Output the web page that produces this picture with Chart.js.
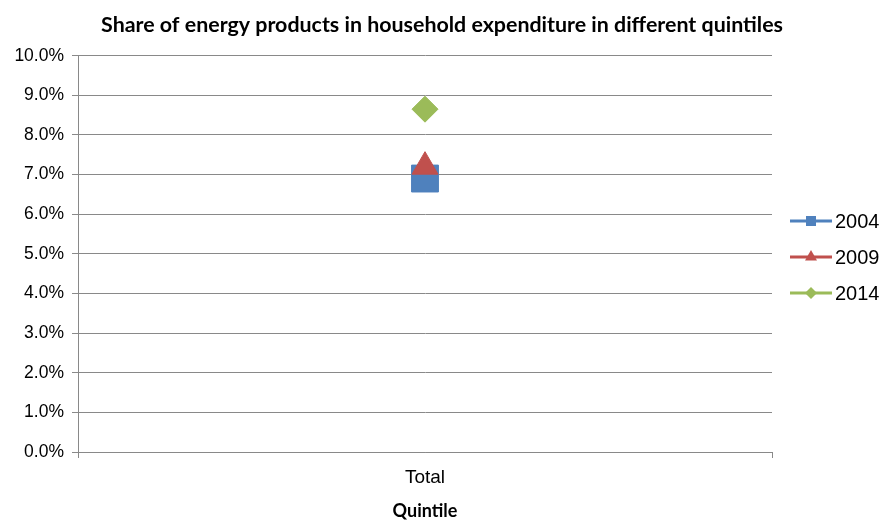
<!DOCTYPE html>
<html>
<head>
<meta charset="utf-8">
<script src="https://cdn.jsdelivr.net/npm/chart.js@4.4.0/dist/chart.umd.min.js"></script>
<style>
  html, body { margin: 0; padding: 0; background: #fff; }
  #wrap { width: 884px; height: 521px; }
</style>
</head>
<body>
<div id="wrap"><canvas id="chart" width="884" height="521"></canvas></div>
<script>
// categories and series (values in %)
const categories = ["Total"];
const seriesNames = ["2004", "2009", "2014"];
const share2004 = [6.9];
const share2009 = [7.2];
const share2014 = [8.65];

const blue = "#4F81BD";
const red = "#C0504D";
const green = "#9BBB59";
const gridGray = "#898989";

// legend drawn as line + marker, like the spreadsheet one
const lineLegend = {
    id: "lineLegend",
    afterDraw(chart) {
        const ctx = chart.ctx;
        const top = 221;
        chart.data.datasets.forEach(function (ds, i) {
            const y = top + i * 36;
            const cx = 811;
            ctx.save();
            ctx.strokeStyle = ds.borderColor;
            ctx.lineWidth = 3;
            ctx.beginPath();
            ctx.moveTo(790, y);
            ctx.lineTo(832, y);
            ctx.stroke();
            ctx.fillStyle = ds.backgroundColor;
            ctx.beginPath();
            if (ds.pointStyle === "rect") {
                ctx.rect(cx - 5, y - 5, 10, 10);
            } else if (ds.pointStyle === "triangle") {
                ctx.moveTo(cx, y - 7);
                ctx.lineTo(cx + 6, y + 3.5);
                ctx.lineTo(cx - 6, y + 3.5);
                ctx.closePath();
            } else {
                ctx.moveTo(cx, y - 6);
                ctx.lineTo(cx + 6, y);
                ctx.lineTo(cx, y + 6);
                ctx.lineTo(cx - 6, y);
                ctx.closePath();
            }
            ctx.fill();
            ctx.fillStyle = "#000";
            ctx.font = "20px 'Liberation Sans', Arial, sans-serif";
            ctx.textBaseline = "middle";
            ctx.textAlign = "left";
            ctx.fillText(seriesNames[i], 835, y + 1);
            ctx.restore();
        });
    }
};

const ctx = document.getElementById("chart");

new Chart(ctx, {
    type: "line",
    data: {
        labels: categories,
        datasets: [
            {
                label: seriesNames[0],
                data: share2004,
                borderColor: blue,
                backgroundColor: blue,
                pointStyle: "rect",
                pointRadius: 19,
                showLine: false,
                order: 3,
            },
            {
                label: seriesNames[1],
                data: share2009,
                borderColor: red,
                backgroundColor: red,
                pointStyle: "triangle",
                pointRadius: 15,
                showLine: false,
                order: 2,
            },
            {
                label: seriesNames[2],
                data: share2014,
                borderColor: green,
                backgroundColor: green,
                pointStyle: "rectRot",
                pointRadius: 13,
                showLine: false,
                order: 1,
            },
        ],
    },
    options: {
        responsive: false,
        animation: false,
        events: [],
        plugins: {
            legend: { display: false },
            tooltip: { enabled: false },
            title: {
                display: true,
                text: "Share of energy products in household expenditure in different quintiles",
                color: "#000",
                font: { family: "Lato, 'Liberation Sans', sans-serif", size: 21.4, weight: "bold" },
                padding: { top: 12, bottom: 18 },
            },
        },
        scales: {
            x: {
                offset: true,
                grid: {
                    offset: true,
                    drawOnChartArea: false,
                    drawTicks: true,
                    tickLength: 6,
                    color: gridGray,
                },
                border: { color: gridGray, width: 1 },
                ticks: {
                    color: "#000",
                    padding: 8,
                    font: { family: "'Liberation Sans', Arial, sans-serif", size: 19 },
                },
                title: {
                    display: true,
                    text: "Quintile",
                    color: "#000",
                    font: { family: "Lato, 'Liberation Sans', sans-serif", size: 18, weight: "bold" },
                    padding: { top: 4, bottom: -1 },
                },
                afterFit: function (scale) { scale.height = 69; },
            },
            y: {
                min: 0,
                max: 10,
                grid: {
                    color: gridGray,
                    tickLength: 6,
                },
                border: { color: gridGray, width: 1 },
                ticks: {
                    stepSize: 1,
                    color: "#000",
                    padding: 8,
                    font: { family: "'Liberation Sans', Arial, sans-serif", size: 17.5 },
                    callback: function (v) { return v.toFixed(1) + "%"; },
                },
                afterFit: function (scale) { scale.width = 78; },
            },
            // empty right axis that only keeps room for the legend
            legendRoom: {
                position: "right",
                display: true,
                grid: { drawOnChartArea: false, drawTicks: false },
                border: { display: false },
                ticks: { display: false },
                afterFit: function (scale) { scale.width = 112; },
            },
        },
    },
    plugins: [lineLegend],
});
</script>
</body>
</html>
